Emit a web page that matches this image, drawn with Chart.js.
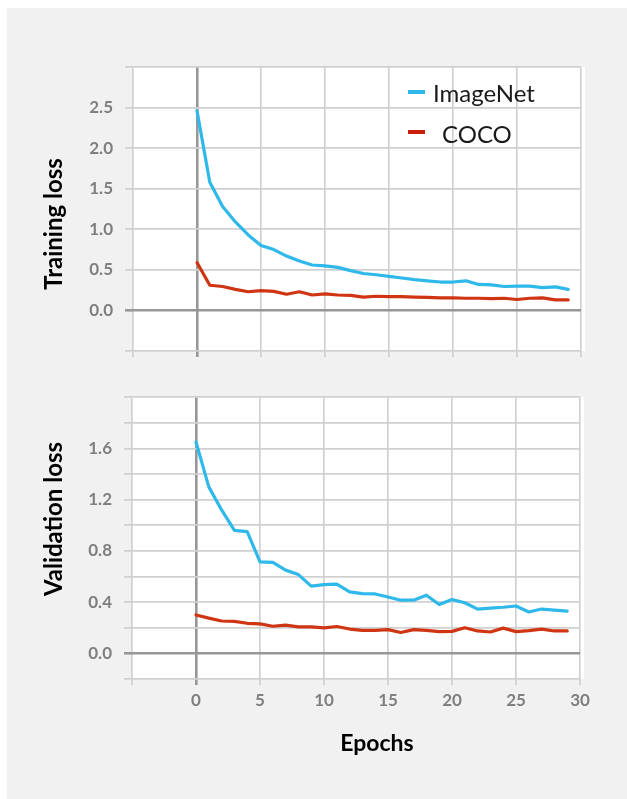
<!DOCTYPE html>
<html>
<head>
<meta charset="utf-8">
<script src="https://cdn.jsdelivr.net/npm/chart.js@4.4.1/dist/chart.umd.min.js"></script>
<style>
  html, body { margin: 0; padding: 0; background: #ffffff; }
  body { width: 627px; height: 799px; position: relative; overflow: hidden; font-family: Lato, "Open Sans", sans-serif; }
  #panel { position: absolute; left: 7px; top: 8px; right: 0; bottom: 0; background: #f1f1f1; }
  canvas { position: absolute; left: 0; }
  #cTop { top: 0; }
  #cBot { top: 375px; }
  .ytitle { position: absolute; width: 300px; height: 24px; line-height: 24px; text-align: center;
            font: bold 24px Lato, "Open Sans", sans-serif; color: #000; transform: rotate(-90deg); white-space: nowrap; }
  .xtitle { position: absolute; width: 200px; height: 24px; line-height: 24px; text-align: center;
            font: bold 23px Lato, "Open Sans", sans-serif; color: #000; white-space: nowrap; }
  .leg { position: absolute; height: 24px; line-height: 24px; font: 24px Lato, "Open Sans", sans-serif; color: #1a1a1a; white-space: nowrap; }
  .dash { position: absolute; width: 17px; height: 4px; }
</style>
</head>
<body>
<div id="panel"></div>
<canvas id="cTop" width="627" height="375"></canvas>
<canvas id="cBot" width="627" height="424"></canvas>

<div class="ytitle" style="left:-100px; top:212px;">Training loss</div>
<div class="ytitle" style="left:-100px; top:507px;">Validation loss</div>
<div class="xtitle" style="left:277px; top:728px;">Epochs</div>

<div class="dash" style="left:408px; top:90px; background:#2fb8ea;"></div>
<div class="leg" style="left:433px; top:78px;">ImageNet</div>
<div class="dash" style="left:408px; top:130px; background:#c81e0a;"></div>
<div class="leg" style="left:442px; top:119px;">COCO</div>

<script>
// ---- data ----
const seriesNames = ['ImageNet', 'COCO'];
const epochs = [0,1,2,3,4,5,6,7,8,9,10,11,12,13,14,15,16,17,18,19,20,21,22,23,24,25,26,27,28,29];
const trainImageNet = [2.46,1.58,1.28,1.09,0.93,0.80,0.75,0.67,0.61,0.56,0.55,0.53,0.49,0.455,0.44,0.42,0.40,0.38,0.365,0.35,0.35,0.365,0.32,0.315,0.295,0.30,0.30,0.28,0.29,0.26];
const trainCOCO = [0.59,0.31,0.295,0.26,0.23,0.245,0.235,0.20,0.23,0.19,0.205,0.19,0.185,0.165,0.175,0.17,0.17,0.165,0.16,0.155,0.155,0.15,0.15,0.145,0.15,0.135,0.15,0.155,0.13,0.13];
const valImageNet = [1.65,1.30,1.12,0.96,0.95,0.715,0.71,0.65,0.615,0.525,0.537,0.54,0.48,0.467,0.464,0.44,0.415,0.415,0.454,0.382,0.42,0.395,0.346,0.354,0.36,0.37,0.323,0.346,0.338,0.33];
const valCOCO = [0.30,0.275,0.253,0.25,0.235,0.23,0.212,0.22,0.207,0.207,0.199,0.21,0.19,0.18,0.18,0.185,0.163,0.185,0.18,0.17,0.172,0.20,0.175,0.167,0.197,0.17,0.178,0.19,0.175,0.175];
const xTickLabels = [0,5,10,15,20,25,30];
const trainYTickLabels = [0.0,0.5,1.0,1.5,2.0,2.5];
const valYTickLabels = [0.0,0.4,0.8,1.2,1.6];

// ---- style ----
const BLUE = '#2fb8ea';
const RED = '#cf3512';
const GRID = '#d0d0d0';
const ZERO = '#979797';
const TICKFONT = { family: 'Lato, "Open Sans", sans-serif', size: 17, weight: 'bold' };

function has(list, v) { return list.some(t => Math.abs(t - v) < 1e-6); }
function isZero(c) { return c && c.tick && Math.abs(c.tick.value) < 1e-9; }

const whiteArea = {
  id: 'whiteArea',
  beforeDraw(chart) {
    const a = chart.chartArea, ctx = chart.ctx;
    ctx.save();
    ctx.fillStyle = '#ffffff';
    ctx.fillRect(a.left, a.top, a.right - a.left + 4, a.bottom - a.top);
    ctx.restore();
  }
};

function pts(ys) { return epochs.map((e, i) => ({ x: e, y: ys[i] })); }

function makeChart(id, dataA, dataB, yMin, yMax, yStep, yLabels, showX, pad, yWidth, xHeight) {
  return new Chart(document.getElementById(id), {
    type: 'line',
    data: {
      datasets: [
        { label: seriesNames[0], data: pts(dataA), borderColor: BLUE, backgroundColor: BLUE, borderWidth: 3.2, pointRadius: 0, tension: 0, borderJoinStyle: 'round', borderCapStyle: 'round' },
        { label: seriesNames[1], data: pts(dataB), borderColor: RED, backgroundColor: RED, borderWidth: 3.2, pointRadius: 0, tension: 0, borderJoinStyle: 'round', borderCapStyle: 'round' }
      ]
    },
    options: {
      responsive: false,
      animation: false,
      devicePixelRatio: 1,
      layout: { padding: pad },
      plugins: { legend: { display: false }, tooltip: { enabled: false } },
      scales: {
        x: {
          type: 'linear', min: -5, max: 30,
          border: { display: false },
          grid: {
            color: c => isZero(c) ? ZERO : GRID,
            lineWidth: c => isZero(c) ? 2.6 : 1.7,
            tickLength: 6
          },
          ticks: {
            stepSize: 5, display: showX, padding: 5, color: '#7f7f7f', font: TICKFONT,
            callback: v => has(xTickLabels, v) ? String(v) : ''
          },
          afterFit: s => { s.height = xHeight; }
        },
        y: {
          type: 'linear', min: yMin, max: yMax,
          border: { display: false },
          grid: {
            color: c => isZero(c) ? ZERO : GRID,
            lineWidth: c => isZero(c) ? 2.6 : 1.7,
            tickLength: 8
          },
          ticks: {
            stepSize: yStep, padding: 12, color: '#7f7f7f', font: TICKFONT,
            callback: v => has(yLabels, v) ? Number(v).toFixed(1) : ''
          },
          afterFit: s => { s.width = yWidth; }
        }
      }
    },
    plugins: [whiteArea]
  });
}

// top: chartArea left 133, right 581, top 67, bottom 351 (canvas height 375)
makeChart('cTop', trainImageNet, trainCOCO, -0.5, 3.0, 0.5, trainYTickLabels, false,
  { top: 67, left: 0, right: 46, bottom: 4 }, 133, 20);
// bottom: chartArea left 132, right 580, top 394, bottom 679 (canvas offset 375)
makeChart('cBot', valImageNet, valCOCO, -0.2, 2.0, 0.2, valYTickLabels, true,
  { top: 19, left: 0, right: 47, bottom: 424 - 304 - 40 }, 132, 40);
</script>
</body>
</html>
